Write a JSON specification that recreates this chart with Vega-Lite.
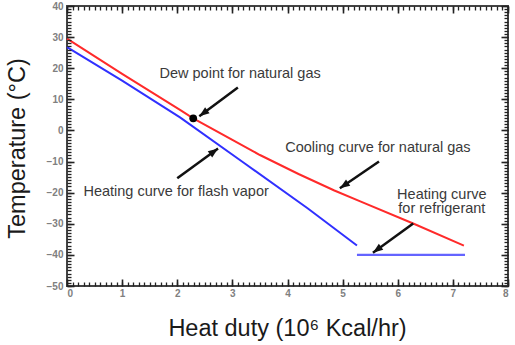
{
  "$schema": "https://vega.github.io/schema/vega-lite/v6.json",
  "width": 441,
  "height": 280,
  "autosize": {"type": "none"},
  "padding": {"left": 67, "top": 6, "right": 7, "bottom": 59},
  "background": "white",
  "config": {
    "view": {"stroke": "#444444", "strokeWidth": 2},
    "axis": {"grid": false, "domain": false, "labelFont": "Liberation Sans", "labelFontWeight": "bold", "labelFontSize": 10, "labelColor": "#808080", "titleFont": "Liberation Sans", "titleFontWeight": "normal", "titleFontSize": 23.5, "titleColor": "#1a1a1a"}
  },
  "datasets": {
    "red": [
      {"x": 0, "y": 29.5}, {"x": 1, "y": 18.2}, {"x": 2.05, "y": 6.6}, {"x": 2.29, "y": 3.9},
      {"x": 3, "y": -3.0}, {"x": 3.5, "y": -7.9}, {"x": 4.2, "y": -14.0}, {"x": 4.85, "y": -19.3},
      {"x": 5.32, "y": -22.8}, {"x": 6.28, "y": -29.9}, {"x": 7.2, "y": -37}
    ],
    "blue": [
      {"x": 0, "y": 26.8}, {"x": 1, "y": 16.0}, {"x": 2.05, "y": 4.2}, {"x": 3.2, "y": -10.3},
      {"x": 4.37, "y": -25.1}, {"x": 5.26, "y": -37}
    ],
    "refr": [{"x": 5.26, "y": -40}, {"x": 7.22, "y": -40}],
    "dew": [{"x": 2.29, "y": 3.9}],
    "arrows": [
      {"x": 3.10, "y": 13.8, "x2": 2.40, "y2": 4.6},
      {"x": 5.66, "y": -10.0, "x2": 4.95, "y2": -18.6},
      {"x": 2.00, "y": -15.4, "x2": 2.74, "y2": -5.8},
      {"x": 6.28, "y": -29.9, "x2": 5.55, "y2": -39.3}
    ],
    "labels": [
      {"x": 3.14, "y": 18.0, "t": "Dew point for natural gas"},
      {"x": 5.64, "y": -5.8, "t": "Cooling curve for natural gas"},
      {"x": 1.98, "y": -19.9, "t": "Heating curve for flash vapor"},
      {"x": 6.8, "y": -20.6, "t": "Heating curve"},
      {"x": 6.8, "y": -25.4, "t": "for refrigerant"}
    ]
  },
  "resolve": {"axis": {"x": "independent", "y": "independent"}},
  "layer": [
    {
      "data": {"name": "red"},
      "mark": {"type": "line", "color": "#ff2a2a", "strokeWidth": 2},
      "encoding": {
        "x": {"field": "x", "type": "quantitative", "scale": {"domain": [0, 8], "nice": false, "zero": false},
          "axis": {"orient": "bottom", "zindex": 2, "offset": -7, "values": [0,1,2,3,4,5,6,7,8], "ticks": true, "tickColor": "#222222", "tickSize": 7, "tickWidth": 1.6, "labelPadding": 2, "title": "Heat duty (10⁶ Kcal/hr)", "titleX": 220, "titleY": 49, "titleBaseline": "middle", "titleAnchor": "middle"}},
        "y": {"field": "y", "type": "quantitative", "scale": {"domain": [-50, 40], "nice": false, "zero": false},
          "axis": {"orient": "left", "zindex": 2, "offset": -7, "values": [-50,-40,-30,-20,-10,0,10,20,30,40], "ticks": true, "tickColor": "#222222", "tickSize": 7, "tickWidth": 1.6, "labelPadding": 4, "title": "Temperature (°C)", "titleX": -57, "titleY": 142, "titleBaseline": "middle", "titleAnchor": "middle", "titleAngle": -90}}
      }
    },
    {
      "data": {"name": "blue"},
      "mark": {"type": "line", "color": "#3030ff", "strokeWidth": 2},
      "encoding": {
        "x": {"field": "x", "type": "quantitative", "axis": {"orient": "bottom", "zindex": 2, "offset": -4, "values": [0,0.1,0.2,0.3,0.4,0.5,0.6,0.7,0.8,0.9,1,1.1,1.2,1.3,1.4,1.5,1.6,1.7,1.8,1.9,2,2.1,2.2,2.3,2.4,2.5,2.6,2.7,2.8,2.9,3,3.1,3.2,3.3,3.4,3.5,3.6,3.7,3.8,3.9,4,4.1,4.2,4.3,4.4,4.5,4.6,4.7,4.8,4.9,5,5.1,5.2,5.3,5.4,5.5,5.6,5.7,5.8,5.9,6,6.1,6.2,6.3,6.4,6.5,6.6,6.7,6.8,6.9,7,7.1,7.2,7.3,7.4,7.5,7.6,7.7,7.8,7.9,8], "ticks": true, "tickColor": "#222222", "tickSize": 4, "tickWidth": 1.3, "labels": false, "title": null}},
        "y": {"field": "y", "type": "quantitative", "axis": {"orient": "left", "zindex": 2, "offset": -4, "values": [-50,-49,-48,-47,-46,-45,-44,-43,-42,-41,-40,-39,-38,-37,-36,-35,-34,-33,-32,-31,-30,-29,-28,-27,-26,-25,-24,-23,-22,-21,-20,-19,-18,-17,-16,-15,-14,-13,-12,-11,-10,-9,-8,-7,-6,-5,-4,-3,-2,-1,0,1,2,3,4,5,6,7,8,9,10,11,12,13,14,15,16,17,18,19,20,21,22,23,24,25,26,27,28,29,30,31,32,33,34,35,36,37,38,39,40], "ticks": true, "tickColor": "#222222", "tickSize": 4, "tickWidth": 1.3, "labels": false, "title": null}}
      }
    },
    {
      "data": {"name": "refr"},
      "mark": {"type": "line", "color": "#6464ff", "strokeWidth": 2.2},
      "encoding": {
        "x": {"field": "x", "type": "quantitative", "axis": {"orient": "top", "zindex": 2, "offset": -4, "values": [0,0.1,0.2,0.3,0.4,0.5,0.6,0.7,0.8,0.9,1,1.1,1.2,1.3,1.4,1.5,1.6,1.7,1.8,1.9,2,2.1,2.2,2.3,2.4,2.5,2.6,2.7,2.8,2.9,3,3.1,3.2,3.3,3.4,3.5,3.6,3.7,3.8,3.9,4,4.1,4.2,4.3,4.4,4.5,4.6,4.7,4.8,4.9,5,5.1,5.2,5.3,5.4,5.5,5.6,5.7,5.8,5.9,6,6.1,6.2,6.3,6.4,6.5,6.6,6.7,6.8,6.9,7,7.1,7.2,7.3,7.4,7.5,7.6,7.7,7.8,7.9,8], "ticks": true, "tickColor": "#222222", "tickSize": 4, "tickWidth": 1.3, "labels": false, "title": null}},
        "y": {"field": "y", "type": "quantitative", "axis": {"orient": "right", "zindex": 2, "offset": -4, "values": [-50,-49,-48,-47,-46,-45,-44,-43,-42,-41,-40,-39,-38,-37,-36,-35,-34,-33,-32,-31,-30,-29,-28,-27,-26,-25,-24,-23,-22,-21,-20,-19,-18,-17,-16,-15,-14,-13,-12,-11,-10,-9,-8,-7,-6,-5,-4,-3,-2,-1,0,1,2,3,4,5,6,7,8,9,10,11,12,13,14,15,16,17,18,19,20,21,22,23,24,25,26,27,28,29,30,31,32,33,34,35,36,37,38,39,40], "ticks": true, "tickColor": "#222222", "tickSize": 4, "tickWidth": 1.3, "labels": false, "title": null}}
      }
    },
    {
      "data": {"name": "dew"},
      "mark": {"type": "point", "filled": true, "color": "#000000", "size": 60, "opacity": 1},
      "encoding": {
        "x": {"field": "x", "type": "quantitative", "axis": {"orient": "top", "zindex": 2, "offset": -7, "values": [0,1,2,3,4,5,6,7,8], "ticks": true, "tickColor": "#222222", "tickSize": 7, "tickWidth": 1.6, "labels": false, "title": null}},
        "y": {"field": "y", "type": "quantitative", "axis": {"orient": "right", "zindex": 2, "offset": -7, "values": [-50,-40,-30,-20,-10,0,10,20,30,40], "ticks": true, "tickColor": "#222222", "tickSize": 7, "tickWidth": 1.6, "labels": false, "title": null}}
      }
    },
    {
      "data": {"name": "arrows"},
      "mark": {"type": "rule", "color": "#111111", "strokeWidth": 2.5},
      "encoding": {
        "x": {"field": "x", "type": "quantitative", "axis": null},
        "y": {"field": "y", "type": "quantitative", "axis": null},
        "x2": {"field": "x2"},
        "y2": {"field": "y2"}
      }
    },
    {
      "data": {"name": "arrows"},
      "transform": [{"calculate": "atan2((datum.x2 - datum.x) * 55.125, (datum.y2 - datum.y) * 3.111) * 180 / PI", "as": "ang"}],
      "mark": {"type": "point", "filled": true, "color": "#111111", "opacity": 1, "shape": "M0,0 L-0.75,2 L0.75,2 Z", "size": 100},
      "encoding": {
        "x": {"field": "x2", "type": "quantitative", "axis": null},
        "y": {"field": "y2", "type": "quantitative", "axis": null},
        "angle": {"field": "ang", "type": "quantitative", "scale": null}
      }
    },
    {
      "data": {"name": "labels"},
      "mark": {"type": "text", "font": "Liberation Sans", "fontSize": 14.5, "color": "#3a3a3a", "align": "center", "baseline": "middle"},
      "encoding": {
        "x": {"field": "x", "type": "quantitative", "axis": null},
        "y": {"field": "y", "type": "quantitative", "axis": null},
        "text": {"field": "t"}
      }
    }
  ]
}
